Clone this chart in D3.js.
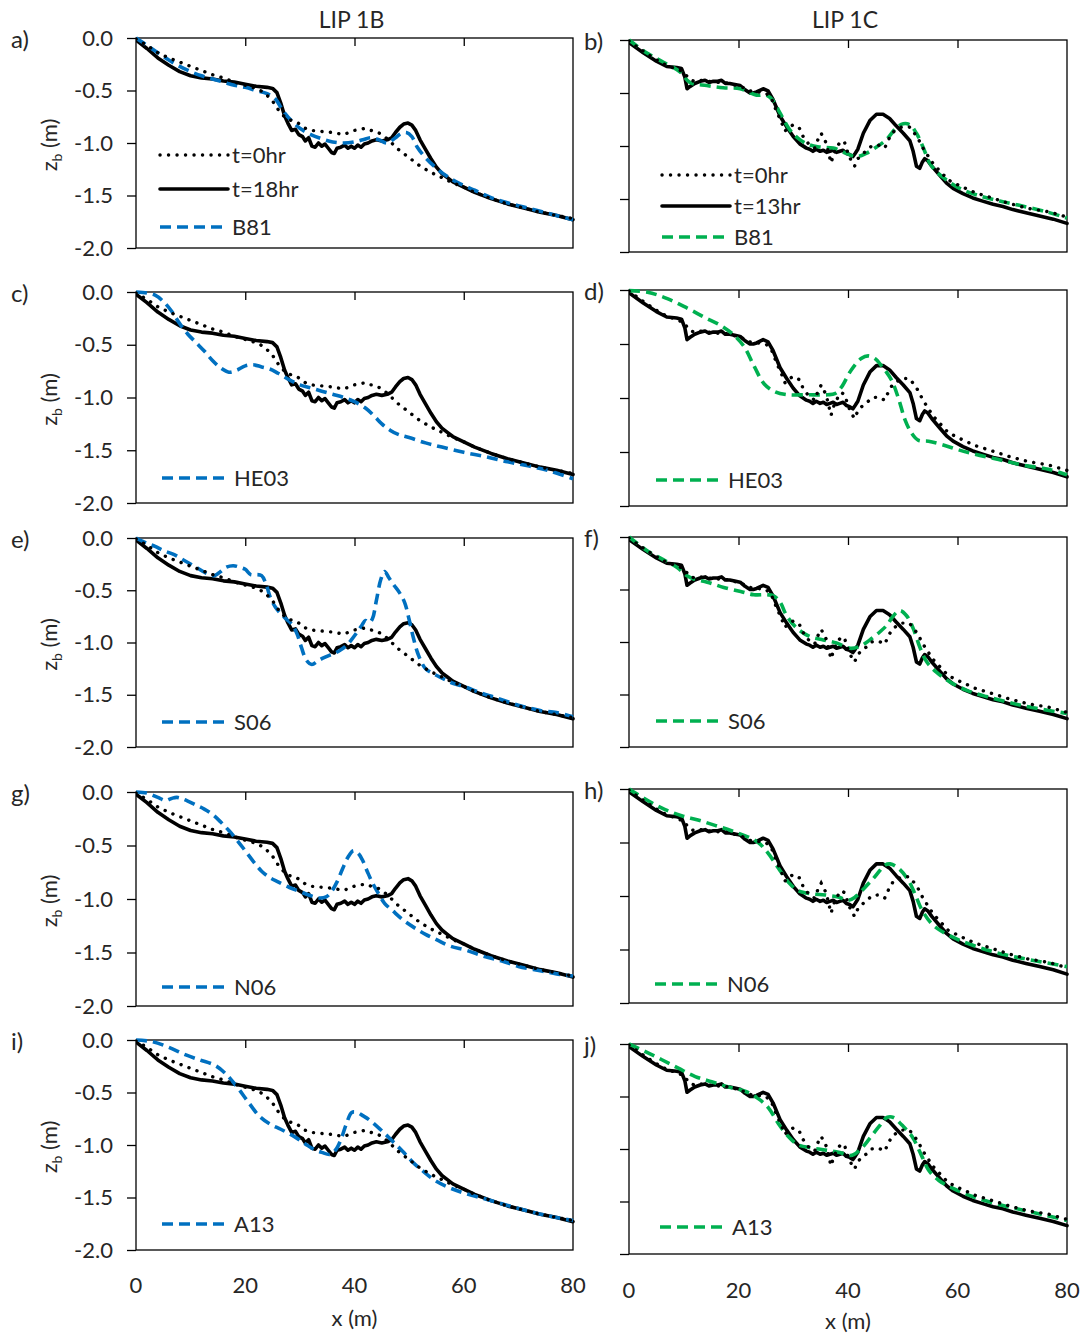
<!DOCTYPE html>
<html>
<head>
<meta charset="utf-8">
<script src="https://cdn.jsdelivr.net/npm/d3@7"></script>
<style>
  body { margin: 0; background: #fff; }
  text { font-family: Lato, "Open Sans", "Liberation Sans", sans-serif; fill: #262626; }
</style>
</head>
<body>
<svg id="chart" width="1088" height="1335"></svg>
<script>
// ---------- axis ticks ----------
const xTicks = [0, 20, 40, 60, 80];
const yTicks = [0, -0.5, -1.0, -1.5, -2.0];
const columnTitles = ["LIP 1B", "LIP 1C"];

// ---------- LIP 1B measured profiles [x (m), zb (m)] ----------
const lip1b_t0 = [[0,-0.01],[2,-0.07],[4,-0.14],[6,-0.19],[8,-0.23],[10,-0.27],[12,-0.31],[14,-0.35],[16,-0.38],[18,-0.42],[20,-0.45],[22,-0.48],[23.5,-0.52],[25,-0.6],[26,-0.68],[27,-0.74],[28,-0.78],[29,-0.79],[30,-0.82],[31,-0.86],[32,-0.88],[34,-0.89],[36,-0.9],[38,-0.92],[39,-0.9],[40,-0.88],[41,-0.87],[42,-0.86],[43,-0.88],[44,-0.89],[45,-0.92],[46,-0.96],[47,-1.01],[48,-1.06],[49,-1.1],[50,-1.14],[51,-1.18],[52,-1.22],[53,-1.25],[54,-1.28],[56,-1.33],[58,-1.38],[60,-1.42],[62,-1.47],[65,-1.53],[68,-1.58],[71,-1.62],[74,-1.66],[77,-1.69],[80,-1.72]];
const lip1b_t18 = [[0,-0.02],[2,-0.1],[4,-0.19],[6,-0.26],[8,-0.32],[10,-0.36],[12,-0.38],[14,-0.39],[16,-0.41],[18,-0.42],[20,-0.44],[22,-0.46],[24,-0.47],[25,-0.48],[25.8,-0.52],[26.5,-0.62],[27.2,-0.74],[27.8,-0.81],[28.5,-0.88],[29.2,-0.87],[29.8,-0.92],[30.5,-0.94],[31,-0.98],[31.6,-0.95],[32.2,-1.03],[32.8,-1.04],[33.4,-1],[34,-1.03],[34.6,-1.01],[35.2,-1.05],[35.8,-1.09],[36.3,-1.1],[36.8,-1.05],[37.5,-1.04],[38.2,-1.02],[38.8,-1.05],[39.4,-1.03],[40,-1.05],[40.6,-1.02],[41.2,-1.04],[41.8,-1.01],[42.5,-1],[43.2,-0.98],[44,-0.97],[45,-0.98],[46,-0.97],[46.8,-0.95],[47.5,-0.9],[48.3,-0.85],[49,-0.82],[49.8,-0.81],[50.5,-0.83],[51.2,-0.88],[52,-0.97],[53,-1.06],[54,-1.15],[55,-1.23],[56,-1.29],[57,-1.33],[58,-1.37],[60,-1.42],[62,-1.47],[65,-1.53],[68,-1.58],[71,-1.62],[74,-1.66],[77,-1.69],[80,-1.73]];

// ---------- LIP 1B model profiles ----------
const lip1b_B81 = [[0,0],[2,-0.07],[4,-0.14],[6,-0.21],[8,-0.27],[10,-0.32],[12,-0.36],[14,-0.39],[16,-0.42],[18,-0.45],[20,-0.47],[22,-0.5],[24,-0.53],[25.5,-0.58],[27,-0.7],[28.5,-0.79],[30,-0.86],[32,-0.92],[34,-0.96],[36,-0.99],[38,-1],[40,-0.99],[41.5,-0.97],[43,-0.95],[44.5,-0.97],[46,-1],[47.5,-0.95],[48.5,-0.91],[49.5,-0.9],[50.5,-0.94],[51.5,-1.04],[53,-1.14],[55,-1.24],[57,-1.32],[59,-1.38],[62,-1.45],[65,-1.52],[68,-1.57],[71,-1.61],[74,-1.65],[77,-1.69],[80,-1.73]];
const lip1b_HE03 = [[0,0],[2,-0.01],[3.5,-0.03],[5,-0.09],[6.5,-0.18],[8,-0.3],[9.5,-0.4],[11,-0.48],[12.5,-0.56],[14,-0.65],[15.5,-0.72],[17,-0.76],[18.5,-0.74],[20,-0.7],[21.5,-0.69],[23,-0.71],[24.5,-0.73],[26,-0.77],[28,-0.83],[30,-0.88],[32,-0.91],[34,-0.94],[36,-0.97],[38,-1],[40,-1.04],[42,-1.1],[43.5,-1.17],[45,-1.25],[46.5,-1.31],[48,-1.35],[50,-1.38],[53,-1.43],[56,-1.47],[60,-1.52],[64,-1.56],[68,-1.61],[72,-1.65],[76,-1.7],[80,-1.77]];
const lip1b_S06 = [[0,0],[2,-0.05],[3.5,-0.08],[5,-0.12],[7,-0.16],[9,-0.22],[11,-0.28],[13,-0.34],[14.4,-0.36],[15.5,-0.32],[16.5,-0.28],[17.8,-0.265],[19,-0.28],[20,-0.3],[21,-0.35],[22,-0.35],[23,-0.36],[23.8,-0.44],[24.6,-0.57],[25.5,-0.66],[26.6,-0.73],[27.6,-0.78],[28.6,-0.83],[29.5,-0.92],[30.3,-1.05],[31.2,-1.17],[32.2,-1.21],[33.2,-1.18],[34.2,-1.15],[35.5,-1.12],[36.5,-1.1],[37.5,-1.07],[38.5,-1.03],[39.5,-0.97],[40.5,-0.9],[41.3,-0.84],[42,-0.79],[42.7,-0.81],[43.3,-0.77],[44,-0.6],[44.8,-0.4],[45.5,-0.32],[46.3,-0.38],[47.2,-0.45],[48.2,-0.52],[49.2,-0.62],[50,-0.78],[50.8,-0.96],[51.7,-1.12],[53,-1.25],[54.5,-1.3],[56,-1.34],[58,-1.39],[60.5,-1.43],[63,-1.48],[66,-1.53],[70,-1.6],[74,-1.65],[77,-1.67],[80,-1.71]];
const lip1b_N06 = [[0,0],[2,-0.01],[4,-0.05],[5.4,-0.08],[6.5,-0.06],[7.5,-0.05],[8.8,-0.07],[10.9,-0.12],[12.5,-0.16],[14,-0.21],[15.5,-0.28],[17,-0.36],[18.5,-0.45],[20,-0.55],[21.5,-0.65],[23,-0.74],[24.5,-0.8],[26,-0.84],[28,-0.89],[30,-0.93],[32,-0.97],[33.5,-0.99],[34.8,-0.98],[35.8,-0.93],[36.8,-0.84],[37.8,-0.72],[38.8,-0.61],[39.8,-0.55],[40.6,-0.57],[41.4,-0.63],[42.4,-0.75],[43.4,-0.86],[44.4,-0.95],[45.5,-1.04],[47,-1.11],[49,-1.2],[51,-1.27],[53,-1.33],[55,-1.38],[57.5,-1.44],[60.5,-1.48],[64,-1.54],[67,-1.58],[70,-1.63],[74,-1.67],[77,-1.7],[80,-1.72]];
const lip1b_A13 = [[0,0],[3,-0.016],[6,-0.07],[9,-0.14],[11.7,-0.19],[14.4,-0.24],[16.4,-0.32],[18.4,-0.44],[20.4,-0.58],[22.5,-0.72],[24.5,-0.8],[26.5,-0.85],[29,-0.92],[31,-0.99],[32.5,-1.04],[34,-1.07],[35.5,-1.09],[36.5,-1.05],[37.5,-0.95],[38.5,-0.8],[39.5,-0.69],[40.5,-0.69],[41.5,-0.72],[42.7,-0.76],[44.7,-0.85],[46.7,-0.95],[48.8,-1.06],[50.8,-1.17],[52.8,-1.26],[54.8,-1.34],[57.5,-1.41],[60.2,-1.46],[64.3,-1.52],[69.7,-1.6],[75,-1.67],[80,-1.72]];

// ---------- LIP 1C measured profiles ----------
const lip1c_t0 = [[0,-0.01],[3,-0.12],[6,-0.22],[8.9,-0.28],[10,-0.3],[11,-0.37],[11.9,-0.39],[13,-0.38],[14.5,-0.39],[16,-0.4],[17.4,-0.4],[19,-0.42],[20.5,-0.44],[22,-0.48],[23.5,-0.49],[25,-0.5],[26,-0.55],[27,-0.68],[27.8,-0.77],[28.5,-0.86],[29,-0.83],[30,-0.8],[31.1,-0.83],[31.8,-0.91],[32.8,-0.98],[33.9,-1.02],[34.5,-0.94],[35.1,-0.88],[35.5,-0.92],[36,-0.97],[36.9,-1.16],[37.5,-1.06],[38.2,-0.99],[38.8,-0.95],[39.4,-0.97],[40,-1.07],[40.6,-1.14],[41.2,-1.19],[41.8,-1.12],[42.5,-1.08],[43.3,-1.05],[44.3,-1],[45.5,-0.99],[46.7,-1.02],[47.5,-0.93],[48.2,-0.87],[49.8,-0.82],[51.2,-0.82],[52,-0.87],[52.8,-0.93],[53.7,-1.02],[54.7,-1.1],[55.6,-1.17],[56.5,-1.22],[58.3,-1.32],[60.2,-1.37],[63.2,-1.44],[66.3,-1.49],[69.3,-1.54],[73,-1.59],[76.6,-1.62],[80,-1.67]];
const lip1c_t13 = [[0,-0.025],[2.6,-0.12],[5,-0.2],[6.9,-0.25],[8.7,-0.26],[9.6,-0.27],[10.2,-0.35],[10.6,-0.46],[11.1,-0.44],[12,-0.41],[13,-0.39],[13.9,-0.38],[14.6,-0.4],[15.4,-0.39],[16.2,-0.39],[16.9,-0.38],[17.6,-0.41],[18.4,-0.41],[19.3,-0.42],[20.3,-0.43],[21.2,-0.47],[22.1,-0.5],[22.7,-0.5],[23.3,-0.49],[24.5,-0.46],[25.4,-0.48],[26.3,-0.56],[27.6,-0.72],[28.8,-0.82],[30,-0.91],[31.2,-0.98],[32.4,-1.02],[33,-1.03],[33.6,-1.05],[34.2,-1.03],[34.9,-1.05],[35.5,-1.04],[36.1,-1.06],[36.7,-1.05],[37.3,-1.04],[37.9,-1.06],[38.5,-1.05],[39.1,-1.04],[39.7,-1.07],[40.3,-1.08],[40.9,-1.1],[41.3,-1.07],[41.8,-1.03],[42.8,-0.88],[44,-0.76],[45.2,-0.7],[46.4,-0.7],[47.6,-0.74],[48.8,-0.81],[50.1,-0.88],[51.3,-0.95],[51.9,-1.05],[52.5,-1.19],[53.1,-1.21],[53.6,-1.15],[54,-1.12],[54.6,-1.14],[55.3,-1.19],[56.8,-1.28],[58,-1.35],[59.2,-1.4],[61,-1.45],[62.8,-1.49],[64.6,-1.52],[66.5,-1.55],[68.3,-1.57],[70.1,-1.6],[72.5,-1.63],[75,-1.66],[77.5,-1.69],[80,-1.73]];

// ---------- LIP 1C model profiles ----------
const lip1c_B81 = [[0,0],[3.2,-0.12],[6.3,-0.21],[9.3,-0.3],[11.1,-0.4],[14.2,-0.43],[17.2,-0.45],[20.3,-0.46],[23.3,-0.52],[25.1,-0.52],[26.3,-0.57],[27.6,-0.69],[29.4,-0.85],[31.2,-0.94],[33,-0.99],[34.9,-1.01],[37.3,-1.02],[39.7,-1.07],[41.5,-1.1],[43.3,-1.07],[45.2,-1.01],[47,-0.94],[48.8,-0.83],[50.1,-0.79],[51.3,-0.8],[52.5,-0.88],[53.7,-1.01],[54.9,-1.16],[56.1,-1.24],[58,-1.32],[60.4,-1.4],[64,-1.47],[67.7,-1.52],[71.3,-1.56],[76.2,-1.62],[80,-1.68]];
const lip1c_HE03 = [[0,-0.006],[3.4,-0.02],[7,-0.08],[10.7,-0.17],[13.7,-0.25],[16.8,-0.33],[19.2,-0.42],[21.1,-0.53],[22.9,-0.71],[24.7,-0.87],[26.6,-0.94],[29,-0.97],[32.7,-0.97],[36.3,-0.97],[37.6,-0.96],[38.8,-0.9],[40.6,-0.74],[42.4,-0.635],[43.7,-0.61],[44.9,-0.635],[46.1,-0.7],[47.9,-0.83],[49.2,-1],[50.4,-1.2],[51.6,-1.325],[52.8,-1.39],[54.7,-1.4],[57.1,-1.43],[60.2,-1.48],[63.2,-1.52],[67.5,-1.57],[71.8,-1.62],[76.6,-1.66],[80,-1.71]];
const lip1c_S06 = [[0,0],[3.3,-0.13],[6.4,-0.22],[8.8,-0.29],[10.6,-0.37],[11.8,-0.4],[14.3,-0.43],[17.3,-0.48],[20.4,-0.52],[22.8,-0.55],[25.2,-0.55],[26.4,-0.56],[27.6,-0.62],[28.8,-0.75],[30.7,-0.87],[33.1,-0.95],[35.5,-0.98],[37.9,-1.01],[40.4,-1.06],[42.2,-1.04],[44,-0.98],[45.9,-0.9],[47.1,-0.84],[48.3,-0.75],[49.5,-0.7],[50.7,-0.75],[51.9,-0.87],[53.2,-1.06],[54.4,-1.19],[56.2,-1.29],[58.6,-1.38],[61.7,-1.46],[65.3,-1.52],[69,-1.57],[73.2,-1.62],[80,-1.68]];
const lip1c_N06 = [[0,0],[3.5,-0.11],[6.5,-0.19],[9.6,-0.25],[12.6,-0.29],[15.7,-0.34],[18.7,-0.39],[21.8,-0.45],[23.6,-0.5],[25.4,-0.6],[27.3,-0.74],[29.1,-0.87],[30.9,-0.95],[33.4,-0.98],[35.8,-0.99],[38.2,-1.01],[40.1,-1.04],[41.3,-1.01],[43.1,-0.92],[44.9,-0.82],[46.8,-0.71],[47.7,-0.7],[49.2,-0.74],[51,-0.85],[52.3,-0.99],[53.5,-1.13],[55.3,-1.26],[57.1,-1.33],[60.2,-1.41],[64.5,-1.49],[68.7,-1.55],[73.6,-1.6],[80,-1.66]];
const lip1c_A13 = [[0,0],[2.9,-0.07],[6,-0.15],[9,-0.23],[12.1,-0.31],[15.1,-0.36],[18.2,-0.41],[21.2,-0.45],[23.6,-0.52],[25.5,-0.61],[27.3,-0.76],[29.1,-0.88],[30.9,-0.96],[33.4,-0.99],[35.8,-1.01],[38.3,-1.03],[40.7,-1.06],[42.5,-0.99],[43.8,-0.91],[45.6,-0.79],[47.1,-0.7],[48.3,-0.7],[49.8,-0.77],[51.7,-0.88],[53.5,-1.07],[54.7,-1.2],[56.6,-1.3],[59,-1.37],[62.6,-1.45],[66.9,-1.52],[71.8,-1.58],[76,-1.63],[80,-1.68]];

// ---------- styling ----------
const BLUE = "#0070C0", GREEN = "#00B050";
const FONT = "Lato, 'Open Sans', sans-serif";
const COLS = [{ left: 136, right: 573, model: BLUE, final: "t=18hr", t0: lip1b_t0, tEnd: lip1b_t18 },
              { left: 629, right: 1067, model: GREEN, final: "t=13hr", t0: lip1c_t0, tEnd: lip1c_t13 }];

const panels = [
  { tag: "a)", col: 0, top: 38,   bottom: 248,  name: "B81",  data: lip1b_B81,  full: true, lx: 24, ly: [117, 151, 189] },
  { tag: "b)", col: 1, top: 40,   bottom: 252,  name: "B81",  data: lip1c_B81,  full: true, lx: 33, ly: [135, 166, 197] },
  { tag: "c)", col: 0, top: 292,  bottom: 503,  name: "HE03", data: lip1b_HE03, lx: 26, ly: [186] },
  { tag: "d)", col: 1, top: 290,  bottom: 506,  name: "HE03", data: lip1c_HE03, lx: 27, ly: [190] },
  { tag: "e)", col: 0, top: 538,  bottom: 747,  name: "S06",  data: lip1b_S06,  lx: 26, ly: [184] },
  { tag: "f)", col: 1, top: 537,  bottom: 747,  name: "S06",  data: lip1c_S06,  lx: 27, ly: [184] },
  { tag: "g)", col: 0, top: 792,  bottom: 1006, name: "N06",  data: lip1b_N06,  lx: 26, ly: [195] },
  { tag: "h)", col: 1, top: 789,  bottom: 1003, name: "N06",  data: lip1c_N06,  lx: 26, ly: [195] },
  { tag: "i)", col: 0, top: 1040, bottom: 1250, name: "A13",  data: lip1b_A13,  lx: 26, ly: [184] },
  { tag: "j)", col: 1, top: 1044, bottom: 1254, name: "A13",  data: lip1c_A13,  lx: 31, ly: [183] }
];

const styles = {
  t0:    { width: 3.4, dash: "0.1 8.4", cap: "round" },
  tEnd:  { width: 3.6, dash: null,      cap: "round" },
  model: { width: 3.6, dash: "11 6",    cap: "butt" }
};

const svg = d3.select("#chart");
// tick labels written with a plain hyphen, one decimal
const fmt = d => d.toFixed(1);

// column headings
COLS.forEach((c, i) => {
  svg.append("text").attr("x", (c.left + c.right) / 2 - 3).attr("y", 28)
    .attr("text-anchor", "middle").attr("font-size", 23).text(columnTitles[i]);
});

panels.forEach((p, idx) => {
  const c = COLS[p.col];
  const x = d3.scaleLinear().domain([0, 80]).range([c.left, c.right]);
  const y = d3.scaleLinear().domain([-2, 0]).range([p.bottom, p.top]);
  const g = svg.append("g");
  const clipId = "clip" + idx;
  g.append("clipPath").attr("id", clipId).append("rect")
    .attr("x", c.left).attr("y", p.top - 2).attr("width", c.right - c.left + 2).attr("height", p.bottom - p.top + 2);

  // y axis with outward ticks
  const yAxis = d3.axisLeft(y).tickValues(yTicks).tickSize(9).tickPadding(14)
    .tickFormat(p.col === 0 ? fmt : () => "");
  const ya = g.append("g").attr("transform", `translate(${c.left},0)`).call(yAxis);
  ya.select(".domain").remove();
  ya.selectAll("line").attr("stroke", "#000").attr("stroke-width", 1.3);
  ya.selectAll("text").attr("font-size", 22).attr("fill", "#262626").style("font-family", FONT);

  // x axis sits at zb = 0, ticks pointing into the plot
  const showX = idx >= 8;
  const xAxis = d3.axisBottom(x).tickValues(xTicks.slice(1, -1)).tickSize(8).tickFormat("");
  const xa = g.append("g").attr("transform", `translate(0,${p.top})`).call(xAxis);
  xa.select(".domain").remove();
  xa.selectAll("line").attr("stroke", "#000").attr("stroke-width", 1.3);

  // plot frame
  g.append("rect").attr("x", c.left).attr("y", p.top)
    .attr("width", c.right - c.left).attr("height", p.bottom - p.top)
    .attr("fill", "none").attr("stroke", "#000").attr("stroke-width", 1.3);

  // x tick labels on the bottom row
  if (showX) {
    const lab = g.append("g");
    lab.selectAll("text").data(xTicks).join("text")
      .attr("x", d => x(d)).attr("y", p.bottom + 43 + (p.col ? 1 : 0))
      .attr("text-anchor", "middle").attr("font-size", 22).text(d => d);
    g.append("text").attr("x", x(40)).attr("y", p.bottom + 76 + (p.col ? -1 : 0))
      .attr("text-anchor", "middle").attr("font-size", 22).text("x (m)");
  }

  // y axis title
  if (p.col === 0) {
    const t = g.append("text")
      .attr("transform", `translate(57,${(p.top + p.bottom) / 2 + 2}) rotate(-90)`)
      .attr("text-anchor", "middle").attr("font-size", 22);
    t.append("tspan").text("z");
    t.append("tspan").attr("font-size", 14).attr("dy", 5).text("b");
    t.append("tspan").attr("dy", -5).text(" (m)");
  }

  // panel tag
  g.append("text").attr("x", p.col === 0 ? 11 : 584).attr("y", p.top + 10)
    .attr("font-size", 24).text(p.tag);

  // profiles
  const lineGen = d3.line().x(d => x(d[0])).y(d => y(d[1]));
  const smooth = d3.line().x(d => x(d[0])).y(d => y(d[1])).curve(d3.curveCatmullRom.alpha(0.5));
  const plot = g.append("g").attr("clip-path", `url(#${clipId})`);
  plot.append("path").datum(c.tEnd).attr("d", lineGen)
    .attr("fill", "none").attr("stroke", "#000").attr("stroke-width", styles.tEnd.width)
    .attr("stroke-linejoin", "round").attr("stroke-linecap", "round");
  plot.append("path").datum(p.data).attr("d", smooth)
    .attr("fill", "none").attr("stroke", c.model).attr("stroke-width", styles.model.width)
    .attr("stroke-dasharray", styles.model.dash);
  plot.append("path").datum(c.t0).attr("d", lineGen)
    .attr("fill", "none").attr("stroke", "#000").attr("stroke-width", styles.t0.width)
    .attr("stroke-dasharray", styles.t0.dash).attr("stroke-linecap", "round");

  // legend
  const entries = p.full
    ? [{ label: "t=0hr", st: "t0" }, { label: c.final, st: "tEnd" }, { label: p.name, st: "model" }]
    : [{ label: p.name, st: "model" }];
  const L = c.left + p.lx;
  entries.forEach((e, k) => {
    const yy = p.top + p.ly[k];
    const s = styles[e.st];
    g.append("line").attr("x1", L).attr("x2", L + 68).attr("y1", yy).attr("y2", yy)
      .attr("stroke", e.st === "model" ? c.model : "#000").attr("stroke-width", s.width)
      .attr("stroke-dasharray", s.dash).attr("stroke-linecap", s.cap);
    g.append("text").attr("x", L + 72).attr("y", yy + 8).attr("font-size", 22).text(e.label);
  });
});
</script>
</body>
</html>
